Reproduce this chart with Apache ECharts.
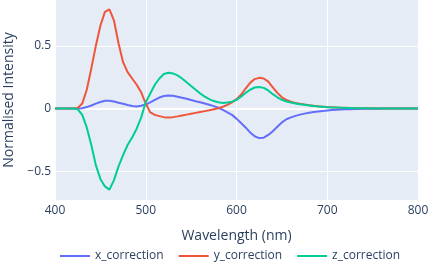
<!DOCTYPE html>
<html><head><meta charset="utf-8">
<script src="https://cdn.jsdelivr.net/npm/echarts@6/dist/echarts.min.js"></script>
<style>html,body{margin:0;padding:0;background:#fff}#c{width:430px;height:270px}</style>
</head><body><div id="c"></div>
<script>
const wavelengths = [400,405,410,415,420,425,430,435,440,445,450,455,460,465,470,475,480,485,490,495,500,505,510,515,520,525,530,535,540,545,550,555,560,565,570,575,580,585,590,595,600,605,610,615,620,625,630,635,640,645,650,655,660,665,670,675,680,685,690,695,700,705,710,715,720,725,730,735,740,745,750,755,760,765,770,775,780,785,790,795,800];
const xCorrection = [0,0,0,0,0,0,0.003,0.012,0.025,0.04,0.053,0.062,0.063,0.056,0.047,0.038,0.028,0.02,0.017,0.022,0.032,0.05,0.07,0.088,0.1,0.105,0.103,0.095,0.087,0.078,0.068,0.058,0.05,0.04,0.03,0.02,0.007,-0.01,-0.03,-0.05,-0.08,-0.115,-0.15,-0.19,-0.22,-0.235,-0.232,-0.21,-0.18,-0.145,-0.11,-0.085,-0.07,-0.058,-0.048,-0.04,-0.033,-0.028,-0.023,-0.019,-0.015,-0.012,-0.01,-0.008,-0.006,-0.005,-0.004,-0.003,-0.002,-0.002,-0.001,-0.001,0,0,0,0,0,0,0,0,0];
const yCorrection = [0,0,0,0,0,0.005,0.04,0.15,0.32,0.5,0.66,0.77,0.79,0.7,0.52,0.37,0.29,0.24,0.19,0.13,0.04,-0.03,-0.05,-0.06,-0.068,-0.07,-0.068,-0.062,-0.055,-0.048,-0.041,-0.034,-0.027,-0.02,-0.013,-0.005,0.003,0.015,0.03,0.05,0.075,0.11,0.16,0.205,0.235,0.245,0.24,0.215,0.17,0.125,0.09,0.068,0.055,0.045,0.038,0.032,0.027,0.022,0.018,0.015,0.012,0.01,0.008,0.007,0.006,0.005,0.004,0.003,0.003,0.002,0.002,0.001,0.001,0.001,0,0,0,0,0,0,0];
const zCorrection = [0,0,0,0,0,-0.005,-0.05,-0.15,-0.29,-0.45,-0.56,-0.62,-0.645,-0.57,-0.46,-0.37,-0.29,-0.23,-0.16,-0.07,0.05,0.12,0.19,0.24,0.275,0.285,0.28,0.265,0.24,0.21,0.18,0.15,0.12,0.095,0.075,0.06,0.05,0.045,0.048,0.055,0.07,0.095,0.125,0.15,0.168,0.172,0.165,0.145,0.115,0.09,0.07,0.057,0.048,0.041,0.035,0.03,0.025,0.02,0.017,0.014,0.011,0.009,0.008,0.006,0.005,0.004,0.003,0.003,0.002,0.002,0.001,0.001,0.001,0,0,0,0,0,0,0,0];
const yTicks = [-0.5, 0, 0.5];
const seriesNames = ['x_correction','y_correction','z_correction'];
const seriesData = [xCorrection, yCorrection, zCorrection];
const colors = ['#636efa','#EF553B','#00cc96'];

const font = '"Open Sans", sans-serif';
const txt = '#2a3f5f';
const chart = echarts.init(document.getElementById('c'), null, {renderer:'canvas'});
chart.setOption({
  animation:false,
  backgroundColor:'#fff',
  grid:{left:55,right:12,top:0,bottom:70,show:true,backgroundColor:'#E5ECF6',borderWidth:0,
    containLabel:false,outerBoundsMode:'none'},
  xAxis:{type:'value',min:400,max:800,interval:100,
    name:'Wavelength (nm)',nameLocation:'middle',nameGap:29,
    nameTextStyle:{fontFamily:font,fontSize:14,color:txt},
    axisLine:{show:false},axisTick:{show:false},
    axisLabel:{fontFamily:font,fontSize:12,color:txt,margin:5},
    splitLine:{show:true,lineStyle:{color:'#fff',width:1}}},
  yAxis:{type:'value',min:-0.728,max:0.865,
    name:'Normalised Intensity',nameLocation:'middle',nameGap:38,
    nameTextStyle:{fontFamily:font,fontSize:14,color:txt},
    axisLine:{show:false},
    axisTick:{show:false,customValues:yTicks},
    axisLabel:{fontFamily:font,fontSize:12,color:txt,margin:4,customValues:yTicks,
      formatter:v=>String(v).replace('-','\u2212')},
    splitLine:{show:true,lineStyle:{color:'#fff',width:1}}},
  legend:{bottom:8,left:60,padding:0,itemWidth:30,itemHeight:2,itemGap:15,icon:'rect',
    textStyle:{fontFamily:font,fontSize:12,color:txt},
    data:seriesNames},
  series:seriesNames.map((n,i)=>({
    name:n,type:'line',symbol:'none',smooth:false,
    data:wavelengths.map((w,k)=>[w,seriesData[i][k]]),
    lineStyle:{color:colors[i],width:2},itemStyle:{color:colors[i]},
    markLine: i===0 ? {silent:true,symbol:'none',label:{show:false},z:1,
      lineStyle:{color:'#fff',width:2,type:'solid'},data:[{yAxis:0}]} : undefined,
    z:3+i
  }))
});
</script></body></html>
